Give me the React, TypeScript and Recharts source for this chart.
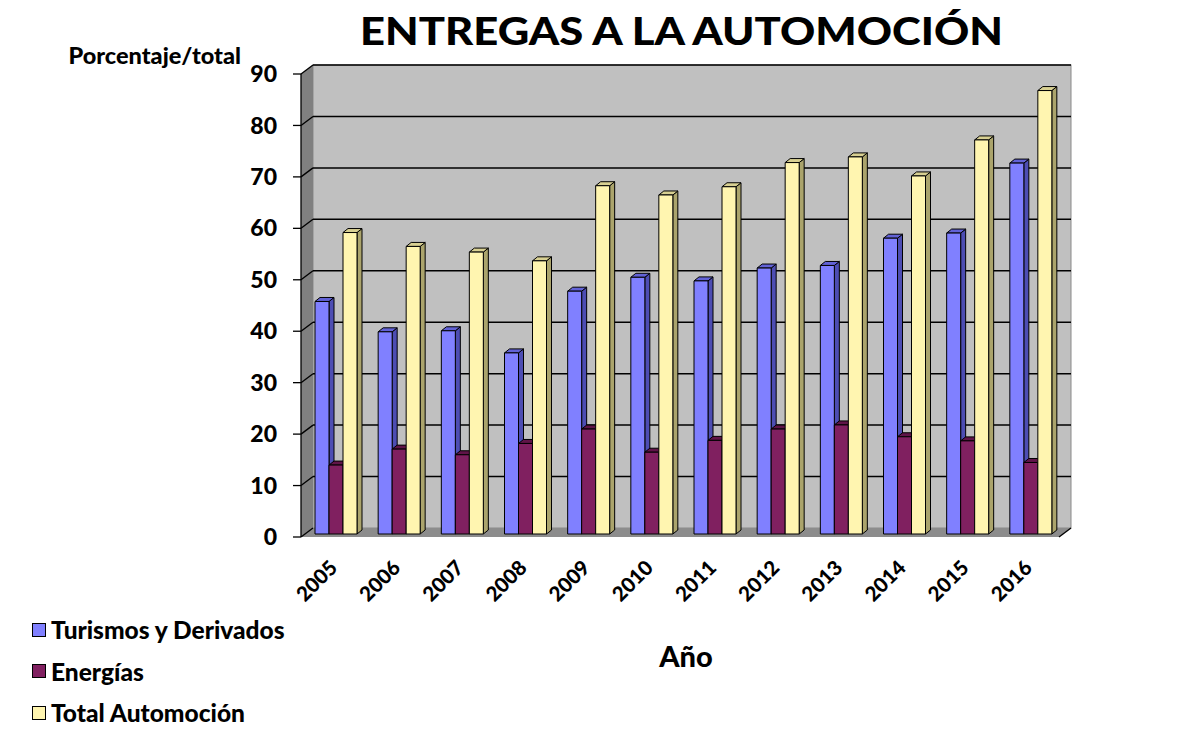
import React from "react";
import { Bar, BarChart, CartesianGrid, Legend, XAxis, YAxis } from "recharts";

const years = ["2005", "2006", "2007", "2008", "2009", "2010", "2011", "2012", "2013", "2014", "2015", "2016"];
const turismos = [45.2, 39.3, 39.5, 35.2, 47.2, 49.9, 49.2, 51.7, 52.2, 57.5, 58.5, 72.1];
const energias = [13.4, 16.5, 15.4, 17.6, 20.4, 15.9, 18.2, 20.4, 21.2, 18.9, 18.1, 13.9];
const totalAuto = [58.6, 55.9, 54.8, 53.1, 67.7, 65.9, 67.5, 72.2, 73.3, 69.6, 76.6, 86.2];
const yTicks = [0, 10, 20, 30, 40, 50, 60, 70, 80, 90];
const seriesNames = ["Turismos y Derivados", "Energías", "Total Automoción"];

const rows = years.map((year, i) => ({
  year,
  turismos: turismos[i],
  energias: energias[i],
  total: totalAuto[i]
}));
const edgeTicks = [...years.map((_, i) => i), years.length];

const font = "Lato, 'Open Sans', sans-serif";
const wallDepth = { x: 12, y: -9 };
const barDepth = { x: 5, y: -4 };
const barShift = { x: 3, y: -3 };

const palette = {
  turismos: { front: "#8080ff", side: "#4d4db3", top: "#6262d6" },
  energias: { front: "#802060", side: "#561040", top: "#601448" },
  total: { front: "#fff5b0", side: "#aba46c", top: "#d8d092" }
};

function Bar3D(props: any) {
  const { x, y, width, height, colors } = props;
  if (!height) return null;
  const x0 = x + barShift.x;
  const y0 = y + barShift.y;
  const { x: dx, y: dy } = barDepth;
  return (
    <g stroke="#000" strokeWidth={1} strokeLinejoin="round">
      <polygon
        points={`${x0 + width},${y0} ${x0 + width + dx},${y0 + dy} ${x0 + width + dx},${y0 + height + dy} ${x0 + width},${y0 + height}`}
        fill={colors.side}
      />
      <polygon
        points={`${x0},${y0} ${x0 + dx},${y0 + dy} ${x0 + width + dx},${y0 + dy} ${x0 + width},${y0}`}
        fill={colors.top}
      />
      <rect x={x0} y={y0} width={width} height={height} fill={colors.front} />
    </g>
  );
}

function Walls({ left, right, top, bottom }: { left: number; right: number; top: number; bottom: number }) {
  const { x: dx, y: dy } = wallDepth;
  return (
    <g>
      <rect x={left + dx} y={top + dy} width={right - left} height={bottom - top} fill="#c0c0c0" stroke="#8a8a8a" />
      <polygon points={`${left},${top} ${left + dx},${top + dy} ${left + dx},${bottom + dy} ${left},${bottom}`} fill="#808080" />
      <polygon points={`${left},${bottom} ${left + dx},${bottom + dy} ${right + dx},${bottom + dy} ${right},${bottom}`} fill="#8c8c8c" />
      <line x1={right} y1={bottom} x2={right + dx} y2={bottom + dy} stroke="#000" strokeWidth={1.3} />
    </g>
  );
}

function WallLine(props: any) {
  const { x1, x2, y1, y, height, index } = props;
  const bottom = y + height;
  const isFloor = Math.abs(y1 - bottom) < 0.5;
  return (
    <g key={props.key}>
      {index === 0 && <Walls left={x1} right={x2} top={y} bottom={bottom} />}
      <line x1={x1} y1={y1} x2={x1 + wallDepth.x} y2={y1 + wallDepth.y} stroke="#000" strokeWidth={1.3} />
      {!isFloor && (
        <line
          x1={x1 + wallDepth.x}
          y1={y1 + wallDepth.y}
          x2={x2 + wallDepth.x}
          y2={y1 + wallDepth.y}
          stroke="#000"
          strokeWidth={1.5}
        />
      )}
    </g>
  );
}

function YearTick({ x, y, payload }: any) {
  const tx = x + 6;
  const ty = y + 32;
  return (
    <text
      x={tx}
      y={ty}
      transform={`rotate(-45 ${tx} ${ty})`}
      textAnchor="end"
      fill="#000"
      fontFamily={font}
      fontWeight={900}
      fontSize={20.5}
    >
      {payload.value}
    </text>
  );
}

function LegendList({ payload }: any) {
  const items = [...(payload || [])].sort(
    (a: any, b: any) => seriesNames.indexOf(a.value) - seriesNames.indexOf(b.value)
  );
  return (
    <div>
      {items.map((entry: any) => (
        <div key={entry.value} style={{ display: "flex", alignItems: "center", height: 41.5 }}>
          <span
            style={{
              display: "inline-block",
              width: 12,
              height: 12,
              background: entry.color,
              border: "1px solid #000",
              marginRight: 5
            }}
          />
          <span style={{ fontFamily: font, fontWeight: 900, fontSize: 24.5, color: "#000", whiteSpace: "nowrap" }}>
            {entry.value}
          </span>
        </div>
      ))}
    </div>
  );
}

export default function App() {
  return (
    <div style={{ position: "absolute", left: 0, top: 0, width: 1200, height: 733, background: "#fff" }}>
      <svg width={1200} height={60} style={{ position: "absolute", left: 0, top: 0 }}>
        <text
          x={360}
          y={45}
          textLength={643}
          lengthAdjust="spacingAndGlyphs"
          fontFamily={font}
          fontWeight={900}
          fontSize={37}
          fill="#000"
        >
          ENTREGAS A LA AUTOMOCIÓN
        </text>
      </svg>
      <div style={{ position: "absolute", left: 0, top: 0 }}>
        <BarChart
          width={1200}
          height={733}
          data={rows}
          margin={{ top: 74, right: 141, left: 241, bottom: 46 }}
          barSize={14}
          barGap={0}
        >
          <CartesianGrid horizontal={WallLine} vertical={false} fill="none" />
          <XAxis xAxisId="frame" type="number" domain={[0, years.length]} ticks={edgeTicks} interval={0}
            height={0} tick={false} tickSize={7} axisLine={{ stroke: "#000", strokeWidth: 1.3 }}
            tickLine={{ stroke: "#000", strokeWidth: 1.3 }} allowDataOverflow />
          <XAxis
            dataKey="year"
            height={150}
            interval={0}
            tickSize={0}
            tickMargin={0}
            axisLine={false}
            tickLine={false}
            tick={<YearTick />}
            label={{
              content: ({ viewBox }: any) => (
                <text
                  x={viewBox.x + viewBox.width / 2 + 6}
                  y={667}
                  textAnchor="middle"
                  fontFamily={font}
                  fontWeight={900}
                  fontSize={29}
                  fill="#000"
                >
                  Año
                </text>
              )
            }}
          />
          <YAxis
            domain={[0, 90]}
            ticks={yTicks}
            interval={0}
            width={60}
            tickSize={8}
            tickMargin={16}
            axisLine={{ stroke: "#000", strokeWidth: 1.3 }}
            tickLine={{ stroke: "#000", strokeWidth: 1.3 }}
            tick={{ fill: "#000", fontSize: 23, fontWeight: 900, fontFamily: font }}
            label={{
              content: ({ viewBox }: any) => (
                <text
                  x={viewBox.x}
                  y={64}
                  textAnchor="end"
                  fontFamily={font}
                  fontWeight={900}
                  fontSize={23.5}
                  fill="#000"
                >
                  Porcentaje/total
                </text>
              )
            }}
          />
          <Legend
            layout="vertical"
            align="center"
            verticalAlign="middle"
            itemSorter={null as any}
            content={<LegendList />}
            wrapperStyle={{ left: 32, top: 609, width: 330 }}
          />
          <Bar dataKey="turismos" name={seriesNames[0]} fill={palette.turismos.front}
            shape={(p: any) => <Bar3D {...p} colors={palette.turismos} />} isAnimationActive={false} />
          <Bar dataKey="energias" name={seriesNames[1]} fill={palette.energias.front}
            shape={(p: any) => <Bar3D {...p} colors={palette.energias} />} isAnimationActive={false} />
          <Bar dataKey="total" name={seriesNames[2]} fill={palette.total.front}
            shape={(p: any) => <Bar3D {...p} colors={palette.total} />} isAnimationActive={false} />
        </BarChart>
      </div>
    </div>
  );
}
